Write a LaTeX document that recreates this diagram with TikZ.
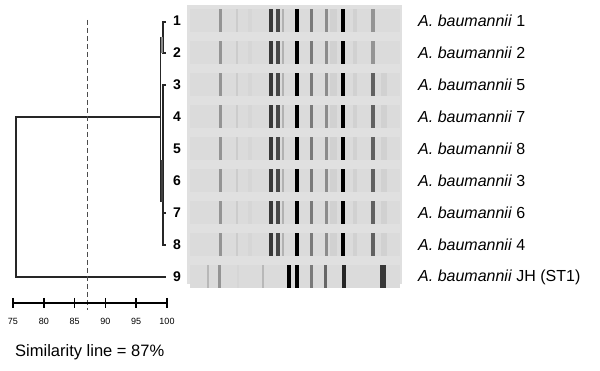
\documentclass[tikz,border=0pt]{standalone}
\usepackage{fontspec}
\setmainfont{Liberation Sans}
\usetikzlibrary{positioning}
\definecolor{gelgray}{RGB}{224,224,224}
\definecolor{lanegray}{RGB}{219,219,219}
\tikzset{
  leafnum/.style={font=\bfseries\fontsize{14}{16}\selectfont, inner sep=0pt},
  strainlab/.style={anchor=west, font=\fontsize{16}{18}\selectfont, inner sep=0pt},
  ticklab/.style={font=\fontsize{9}{11}\selectfont, inner sep=0pt},
  tree/.style={line width=1.8pt, black!85},
  simline/.style={line width=1.4pt, black!70, dash pattern=on 5pt off 3pt},
}

\begin{document}
\begin{tikzpicture}[x=1pt, y=-1pt]
  \useasboundingbox (0,0) rectangle (600,371);

  % gel panel
  \fill[gelgray] (187,5) rectangle (402,284);
  \foreach \r in {1,...,9}
    \fill[lanegray] (190,{21+32*(\r-1)-11.5}) rectangle (400,{21+32*(\r-1)+11.5});

  % bands of lanes 1-8
  \foreach \r in {1,...,8} {
    \foreach \x/\s/\w in {220/42/3, 237/20/2.5, 250/16/4, 271/78/3.3, 278/72/3.3, 283/30/2.5,
                          297/100/3.8, 311/52/3, 326/45/3, 333/18/7, 343/100/3.8, 355/18/4}
      \fill[black!\s] ({\x-\w/2},{21+32*(\r-1)-11.5}) rectangle ({\x+\w/2},{21+32*(\r-1)+11.5});
  }
  \foreach \r/\s in {1/42, 2/42, 3/62, 4/62, 5/62, 6/62, 7/62, 8/62}
    \fill[black!\s] (371,{21+32*(\r-1)-11.5}) rectangle (375,{21+32*(\r-1)+11.5});
  \foreach \r in {3,...,8}
    \fill[black!18] (381,{21+32*(\r-1)-11.5}) rectangle (387,{21+32*(\r-1)+11.5});

  % bands of lane 9
  \foreach \x/\s/\w in {208/28/2.5, 219/42/3, 238/16/2.5, 263/28/2.5, 289/100/3.8, 297/100/3.8,
                        311/52/3, 325/60/3, 344/85/3.8, 383/78/6}
    \fill[black!\s] ({\x-\w/2},265.5) rectangle ({\x+\w/2},288.5);

  % leaf numbers
  \foreach \i in {1,...,9}
    \node[leafnum] (n\i) at (177,{21+32*(\i-1)}) {\i};

  % strain labels
  \foreach \i/\t in {1/1, 2/2, 3/5, 4/7, 5/8, 6/3, 7/6, 8/4}
    \node[strainlab] (lab\i) at (418,{21+32*(\i-1)}) {\textit{A. baumannii} \t};
  \node[strainlab] (lab9) at (418,277) {\textit{A. baumannii} JH (ST1)};

  % dendrogram
  \coordinate (t1) at (166,22);
  \coordinate (t2) at (166,53);
  \coordinate (t3) at (166,85);
  \coordinate (t7) at (166,213);
  \coordinate (t8) at (166,245);
  \coordinate (t9) at (166,277);
  \coordinate (root) at (161,117);
  \draw[tree] (t1) -- ++(-3,0) |- (t2);
  \draw[tree] (t3) -- ++(-3,0) |- (t8);
  \draw[tree] (t7) -- ++(-3,0);
  \fill[black!45] (159.5,37) rectangle (163,53);
  \fill[black!75] (159.5,160) rectangle (163,202);
  \draw[tree] (160.5,37) -- (160.5,202);
  \draw[tree] (root) -- (16,117) |- (t9);

  % similarity cut-off
  \draw[simline] (87.3,20) -- (87.3,310);

  % scale
  \draw[line width=1.5pt] (13,303) -- (167,303);
  \foreach \v in {75,80,...,100} {
    \draw[line width=1.5pt] ({13+(\v-75)*6.16},298) -- ({13+(\v-75)*6.16},308);
    \node[ticklab] (s\v) at ({13+(\v-75)*6.16},321) {\v};
  }
  \node[anchor=west, inner sep=0pt, font=\fontsize{16.5}{18}\selectfont] (simtext) at (15,352) {Similarity line = 87\%};
\end{tikzpicture}
\end{document}
